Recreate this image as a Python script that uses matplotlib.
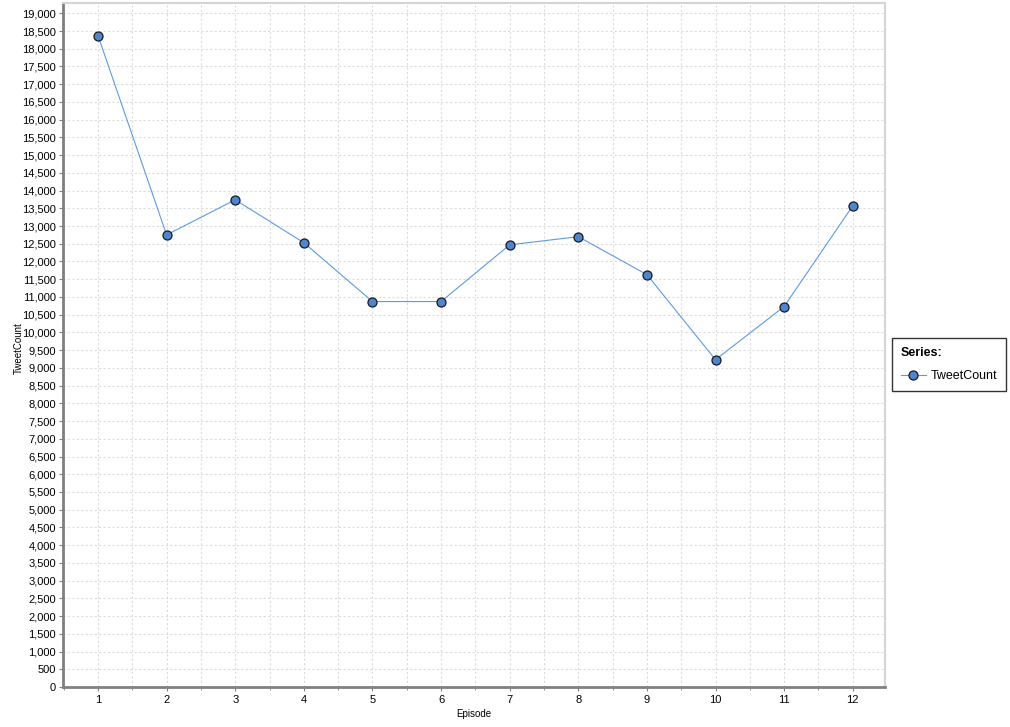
import matplotlib
matplotlib.use("Agg")
import matplotlib.pyplot as plt
from matplotlib.ticker import MultipleLocator, FuncFormatter

episodes = [1, 2, 3, 4, 5, 6, 7, 8, 9, 10, 11, 12]
tweet_counts = [18370, 12750, 13740, 12530, 10870, 10870, 12470, 12700, 11630, 9230, 10730, 13570]
series_name = "TweetCount"

plt.rcParams['font.family'] = ['Liberation Sans', 'DejaVu Sans']

fig = plt.figure(figsize=(10.10, 7.27), dpi=100)
ax = fig.add_axes([63 / 1010, 1 - 687 / 727, (885 - 63) / 1010, (687 - 3) / 727])

ax.plot(episodes, tweet_counts, color='#5a9be6', linewidth=0.8,
        marker='o', markersize=6.5, markerfacecolor='#4a86d4',
        markeredgecolor='#1a1a1a', markeredgewidth=0.9, label=series_name, zorder=3)

ax.set_xlim(0.49, 12.47)
ax.set_ylim(0, 19290)

ax.xaxis.set_major_locator(MultipleLocator(1))
ax.xaxis.set_minor_locator(MultipleLocator(0.5))
ax.yaxis.set_major_locator(MultipleLocator(500))
ax.yaxis.set_major_formatter(FuncFormatter(lambda v, p: f"{int(v):,}"))

ax.grid(True, which='both', axis='x', color='#dcdcdc', linestyle=(0, (2, 2)), linewidth=0.8)
ax.grid(True, which='major', axis='y', color='#dcdcdc', linestyle=(0, (2, 2)), linewidth=0.8)
ax.set_axisbelow(True)

for s in ['top', 'right']:
    ax.spines[s].set_color('#d4d4d4')
    ax.spines[s].set_linewidth(1.5)
for s in ['left', 'bottom']:
    ax.spines[s].set_color('#808080')
    ax.spines[s].set_linewidth(2)

ax.tick_params(axis='both', which='major', labelsize=8, length=3, color='#808080', pad=3)
ax.tick_params(axis='x', which='minor', length=2, color='#808080')
ax.tick_params(axis='y', which='major', pad=2)

ax.set_xlabel("Episode", fontsize=7)
ax.set_ylabel("TweetCount", fontsize=7)
ax.xaxis.set_label_coords(0.5, (687 - 709) / 684)
ax.yaxis.set_label_coords((24 - 63) / 822, 0.5 - (348 - 345) / 684)

leg = fig.legend(loc='upper left', bbox_to_anchor=(892 / 1010, 1 - 338 / 727),
                 title="Series:", fontsize=9, frameon=True, fancybox=False,
                 edgecolor='black', borderpad=0.7, borderaxespad=0,
                 labelspacing=0.9, handlelength=2.0, handletextpad=0.4)
leg.get_frame().set_linewidth(1.0)
leg.get_title().set_fontweight('bold')
leg.get_title().set_fontsize(9)
leg._legend_box.align = "left"

fig.savefig("out.png", dpi=100)
